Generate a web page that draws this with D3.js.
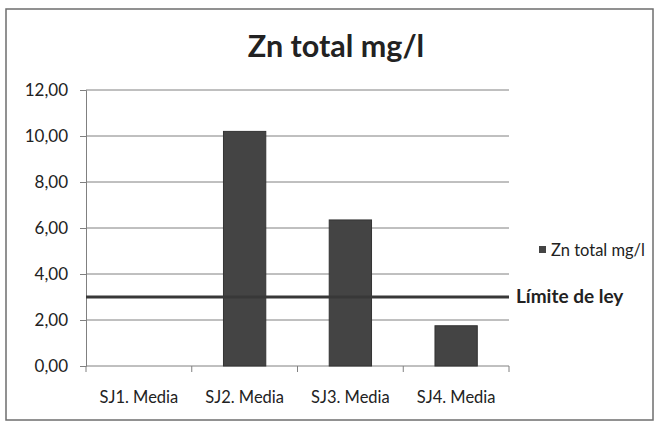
<!DOCTYPE html>
<html>
<head>
<meta charset="utf-8">
<script src="https://cdn.jsdelivr.net/npm/d3@7"></script>
<style>
  html, body { margin: 0; padding: 0; background: #fff; }
  svg { display: block; }
  text { font-family: Lato, "Open Sans", sans-serif; fill: #222; }
</style>
</head>
<body>
<svg id="chart" width="658" height="425"></svg>
<script>
// Zinc totals per sampling point (mg/l)
const categories = ["SJ1. Media", "SJ2. Media", "SJ3. Media", "SJ4. Media"];
const values = [0, 10.2, 6.35, 1.75];
const yTicks = [0, 2, 4, 6, 8, 10, 12];
const legalLimit = 3;
const seriesName = "Zn total mg/l";
const limitLabel = "Límite de ley";
const title = "Zn total mg/l";

const svg = d3.select("#chart");
const plot = { left: 86, right: 509, top: 90, bottom: 366 };

// soft blur used for the limit line halo
const defs = svg.append("defs");
defs.append("filter").attr("id", "soft")
  .attr("x", "-5%").attr("y", "-300%").attr("width", "110%").attr("height", "700%")
  .append("feGaussianBlur").attr("stdDeviation", 1.4);

// chart frame
svg.append("rect")
  .attr("x", 6).attr("y", 9).attr("width", 647).attr("height", 411)
  .attr("fill", "#fff").attr("stroke", "#6e6e6e").attr("stroke-width", 1.5);

const x = d3.scaleBand().domain(categories)
  .range([plot.left, plot.right]).paddingInner(0.6).paddingOuter(0.3);
const y = d3.scaleLinear().domain([0, 12]).range([plot.bottom, plot.top]);

// horizontal gridlines
svg.append("g").selectAll("line").data(yTicks.filter(d => d > 0)).join("line")
  .attr("x1", plot.left).attr("x2", plot.right)
  .attr("y1", d => y(d)).attr("y2", d => y(d))
  .attr("stroke", "#808080").attr("stroke-width", 1);

// y axis
const fmt = d => d3.format(".2f")(d).replace(".", ",");
const yAxis = svg.append("g").attr("transform", `translate(${plot.left},0)`)
  .call(d3.axisLeft(y).tickValues(yTicks).tickFormat(fmt).tickSize(6).tickPadding(12));
yAxis.select(".domain").attr("stroke", "#808080");
yAxis.selectAll(".tick line").attr("stroke", "#808080");
yAxis.selectAll("text").style("font-size", "17px").attr("fill", "#222");

// x axis with boundary ticks between categories
svg.append("line")
  .attr("x1", plot.left).attr("x2", plot.right)
  .attr("y1", plot.bottom).attr("y2", plot.bottom)
  .attr("stroke", "#808080");
const step = x.step();
const tickXs = d3.range(categories.length + 1).map(i => plot.left + i * step);
svg.append("g").selectAll("line").data(tickXs).join("line")
  .attr("x1", d => d).attr("x2", d => d)
  .attr("y1", plot.bottom).attr("y2", plot.bottom + 6)
  .attr("stroke", "#808080");
svg.append("g").selectAll("text").data(categories).join("text")
  .attr("x", d => x(d) + x.bandwidth() / 2)
  .attr("y", 403)
  .attr("text-anchor", "middle")
  .style("font-size", "16.5px")
  .text(d => d);

// bars
svg.append("g").selectAll("rect").data(values).join("rect")
  .attr("x", (d, i) => x(categories[i]))
  .attr("width", x.bandwidth())
  .attr("y", d => y(d))
  .attr("height", d => y(0) - y(d))
  .attr("fill", "#444")
  .attr("stroke", "#333")
  .attr("stroke-width", 1);

// legal limit line
const limitY = y(legalLimit);
svg.append("line")
  .attr("x1", plot.left).attr("x2", plot.right)
  .attr("y1", limitY).attr("y2", limitY)
  .attr("stroke", "#6a6a6a").attr("stroke-width", 7)
  .attr("filter", "url(#soft)");
svg.append("line")
  .attr("x1", plot.left).attr("x2", plot.right)
  .attr("y1", limitY).attr("y2", limitY)
  .attr("stroke", "#383838").attr("stroke-width", 3);
svg.append("text")
  .attr("x", 516).attr("y", limitY + 6)
  .style("font-size", "19px").style("font-weight", "bold")
  .attr("fill", "#111")
  .text(limitLabel);

// legend
svg.append("rect")
  .attr("x", 539).attr("y", 246).attr("width", 7).attr("height", 7)
  .attr("fill", "#444");
svg.append("text")
  .attr("x", 551).attr("y", 255.5)
  .style("font-size", "16.5px")
  .text(seriesName);

// title
svg.append("text")
  .attr("x", 336).attr("y", 57)
  .attr("text-anchor", "middle")
  .style("font-size", "30.5px").style("font-weight", "bold")
  .attr("fill", "#111")
  .text(title);
</script>
</body>
</html>
